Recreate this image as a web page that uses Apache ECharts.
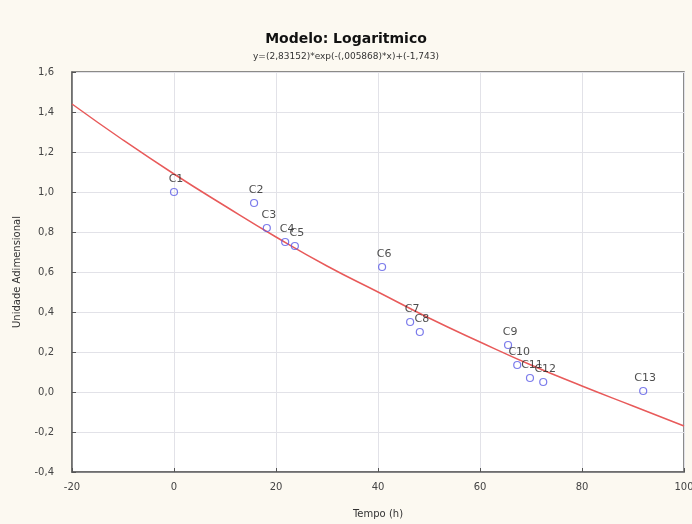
<!DOCTYPE html>
<html><head><meta charset="utf-8">
<script src="https://cdn.jsdelivr.net/npm/echarts@6/dist/echarts.min.js"></script>
<style>html,body{margin:0;padding:0;background:#fcf9f1}#c{width:692px;height:524px}</style>
</head><body><div id="c"></div>
<script>
var pointNames = ["C1","C2","C3","C4","C5","C6","C7","C8","C9","C10","C11","C12","C13"];
var pointX = [0, 15.7, 18.2, 21.8, 23.7, 40.8, 46.3, 48.2, 65.5, 67.3, 69.8, 72.4, 92.0];
var pointY = [1.0, 0.945, 0.82, 0.75, 0.73, 0.625, 0.35, 0.30, 0.235, 0.135, 0.07, 0.05, 0.005];
var curveX = [-20, -10, 0, 10, 20, 30, 40, 50, 60, 70, 80, 90, 100];
var curveY = [1.44, 1.26, 1.09, 0.93, 0.775, 0.63, 0.50, 0.37, 0.25, 0.135, 0.03, -0.07, -0.17];
var xTicks = [-20, 0, 20, 40, 60, 80, 100];
var yTicks = [-0.4, -0.2, 0, 0.2, 0.4, 0.6, 0.8, 1.0, 1.2, 1.4, 1.6];

var chart = echarts.init(document.getElementById('c'));
var pts = pointX.map(function(x, i){ return {name: pointNames[i], value: [x, pointY[i]]}; });
var curve = curveX.map(function(x, i){ return [x, curveY[i]]; });
var font = 'DejaVu Sans, Liberation Sans, sans-serif';
chart.setOption({
  backgroundColor: '#fcf9f1',
  animation: false,
  title: {
    text: 'Modelo: Logaritmico',
    subtext: 'y=(2,83152)*exp(-(,005868)*x)+(-1,743)',
    left: 'center', top: 27, itemGap: 6,
    textStyle: {fontFamily: font, fontSize: 14, fontWeight: 'bold', color: '#111'},
    subtextStyle: {fontFamily: font, fontSize: 9, color: '#333'}
  },
  grid: {left: 72, right: 8, top: 72, bottom: 52, show: true, containLabel: false, outerBoundsMode: 'none',
         backgroundColor: '#ffffff', borderColor: '#666', borderWidth: 1.5},
  xAxis: {
    type: 'value', min: -20, max: 100, interval: 20,
    name: 'Tempo (h)', nameLocation: 'middle', nameGap: 37,
    nameTextStyle: {fontFamily: font, fontSize: 10, color: '#333'},
    axisLine: {show: true, onZero: false, lineStyle: {color: '#666', width: 1.5}},
    axisTick: {show: true, inside: true, length: 4, lineStyle: {color: '#555'}},
    axisLabel: {fontFamily: font, fontSize: 10, color: '#444', margin: 10, hideOverlap: false,
      formatter: function(v){ return xTicks.indexOf(v) >= 0 ? String(v) : ''; }},
    splitLine: {show: true, lineStyle: {color: '#e2e2e8'}}
  },
  yAxis: {
    type: 'value', min: -0.4, max: 1.6, interval: 0.2,
    name: 'Unidade Adimensional', nameLocation: 'middle', nameGap: 50,
    nameTextStyle: {fontFamily: font, fontSize: 10, color: '#333'},
    axisLine: {show: true, onZero: false, lineStyle: {color: '#666', width: 1.5}},
    axisTick: {show: true, inside: true, length: 4, lineStyle: {color: '#555'}},
    axisLabel: {fontFamily: font, fontSize: 10, color: '#444', margin: 18,
      formatter: function(v){
        var t = yTicks.filter(function(k){ return Math.abs(k - v) < 1e-6; });
        return t.length ? t[0].toFixed(1).replace('.', ',') : '';
      }},
    splitLine: {show: true, lineStyle: {color: '#e2e2e8'}}
  },
  series: [
    {type: 'line', data: curve, smooth: true, showSymbol: false, symbol: 'none',
     lineStyle: {color: '#e85a5a', width: 1.5}, z: 2},
    {type: 'scatter', data: pts, symbol: 'circle', symbolSize: 7,
     itemStyle: {color: 'rgba(255,255,255,0)', borderColor: '#5a5ae6', borderWidth: 1.2},
     label: {show: true, position: 'top', distance: 3, offset: [2, 0], formatter: '{b}',
       fontFamily: font, fontSize: 11, color: '#222'}, z: 3}
  ]
});
</script></body></html>
